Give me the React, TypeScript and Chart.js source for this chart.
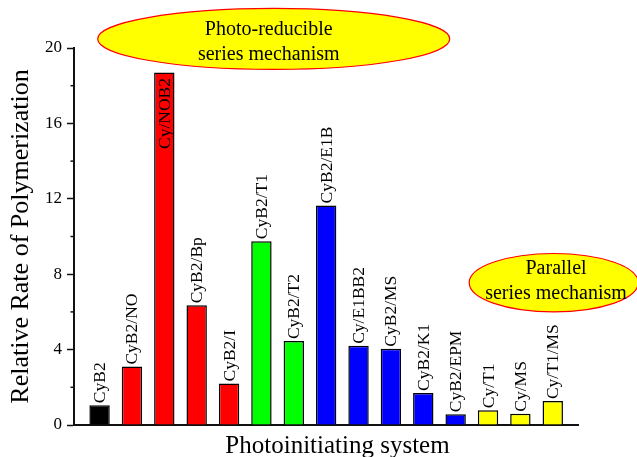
import { useEffect, useRef } from "react";
import { Chart, registerables, Plugin } from "chart.js";

Chart.register(...registerables);

const CATEGORIES = [
  "CyB2",
  "CyB2/NO",
  "Cy/NOB2",
  "CyB2/Bp",
  "CyB2/I",
  "CyB2/T1",
  "CyB2/T2",
  "CyB2/E1B",
  "Cy/E1BB2",
  "CyB2/MS",
  "CyB2/K1",
  "CyB2/EPM",
  "Cy/T1",
  "Cy/MS",
  "Cy/T1/MS",
];

const RATES = [1.05, 3.1, 18.7, 6.35, 2.2, 9.75, 4.45, 11.65, 4.2, 4.05, 1.7, 0.57, 0.78, 0.6, 1.27];

const BAR_COLORS = [
  "#000000",
  "#FF0000",
  "#FF0000",
  "#FF0000",
  "#FF0000",
  "#00FF00",
  "#00FF00",
  "#0000FF",
  "#0000FF",
  "#0000FF",
  "#0000FF",
  "#0000FF",
  "#FFFF00",
  "#FFFF00",
  "#FFFF00",
];

const Y_TICKS = [0, 4, 8, 12, 16, 20];

const SERIF = "'Liberation Serif', 'Times New Roman', serif";

// mechanism callouts, anchored in data units
const NOTES = [
  { lines: ["Photo-reducible", "series mechanism"], x: 5.38, y: 20.48, rx: 176, ry: 30.5, dx: -5, dy: -3.5 },
  { lines: ["Parallel", "series mechanism"], x: 14.03, y: 7.55, rx: 84.5, ry: 29.2, dx: 2.3, dy: -8.2 },
];

const barLabels: Plugin = {
  id: "barLabels",
  afterDatasetsDraw(chart) {
    const { ctx, chartArea } = chart;
    const meta = chart.getDatasetMeta(0);
    ctx.save();
    ctx.font = `17.5px ${SERIF}`;
    ctx.fillStyle = "#000";
    ctx.textBaseline = "alphabetic";
    meta.data.forEach((bar: any, i) => {
      const label = CATEGORIES[i];
      const w = ctx.measureText(label).width;
      const inside = bar.y - w - 3 < chartArea.top;
      ctx.save();
      if (inside) {
        ctx.translate(bar.x + 5.5, bar.y + 5.5);
        ctx.rotate(-Math.PI / 2);
        ctx.textAlign = "right";
      } else {
        ctx.translate(bar.x + 5.5, bar.y - 2);
        ctx.rotate(-Math.PI / 2);
        ctx.textAlign = "left";
      }
      ctx.fillText(label, 0, 0);
      ctx.restore();
    });
    ctx.restore();
  },
};

const extras: Plugin = {
  id: "extras",
  afterDraw(chart) {
    const { ctx, chartArea } = chart;
    const xs = chart.scales.x;
    const ys = chart.scales.y;

    // minor ticks on y axis
    ctx.save();
    ctx.strokeStyle = "#111";
    ctx.lineWidth = 1.5;
    ys.ticks.forEach((t) => {
      if (Y_TICKS.includes(t.value)) return;
      const py = ys.getPixelForValue(t.value);
      ctx.beginPath();
      ctx.moveTo(chartArea.left - 3.5, py);
      ctx.lineTo(chartArea.left, py);
      ctx.stroke();
    });
    ctx.restore();

    // x axis title
    ctx.save();
    ctx.font = `25px ${SERIF}`;
    ctx.fillStyle = "#000";
    ctx.textAlign = "center";
    ctx.textBaseline = "alphabetic";
    ctx.fillText("Photoinitiating system", (chartArea.left + chartArea.right) / 2 + 11.5, 453);
    ctx.restore();

    // callout ellipses
    NOTES.forEach((n) => {
      const cx = xs.getPixelForValue(n.x);
      const cy = ys.getPixelForValue(n.y);
      ctx.save();
      ctx.beginPath();
      ctx.ellipse(cx, cy, n.rx, n.ry, 0, 0, Math.PI * 2);
      ctx.fillStyle = "#FFFF00";
      ctx.fill();
      ctx.strokeStyle = "#FF0000";
      ctx.lineWidth = 1.2;
      ctx.stroke();
      ctx.font = `20px ${SERIF}`;
      ctx.fillStyle = "#000";
      ctx.textAlign = "center";
      ctx.textBaseline = "alphabetic";
      n.lines.forEach((line, k) => {
        ctx.fillText(line, cx + n.dx, cy + n.dy + k * 24.2);
      });
      ctx.restore();
    });
  },
};

export default function App() {
  const canvasRef = useRef<HTMLCanvasElement>(null);
  const chartRef = useRef<Chart | null>(null);

  useEffect(() => {
    document.body.style.margin = "0";
    if (!canvasRef.current) return;
    if (chartRef.current) chartRef.current.destroy();

    chartRef.current = new Chart(canvasRef.current, {
      type: "bar",
      data: {
        datasets: [
          {
            label: "Relative Rate of Polymerization",
            data: RATES.map((v, i) => ({ x: i, y: v })),
            backgroundColor: BAR_COLORS,
            borderColor: "#000",
            borderWidth: 1.5,
            barPercentage: 0.63,
            categoryPercentage: 1,
          },
        ],
      },
      options: {
        responsive: false,
        animation: false,
        layout: { padding: { top: 48, right: 59, left: 0, bottom: 0 } },
        plugins: {
          legend: { display: false },
          tooltip: { enabled: false },
        },
        scales: {
          x: {
            type: "linear",
            offset: false,
            min: -0.79,
            max: 14.78,
            ticks: { display: false },
            grid: { offset: false, drawOnChartArea: false, drawTicks: false },
            border: { display: true, color: "#111", width: 2 },
            afterFit: (scale) => {
              scale.height = 32;
            },
          },
          y: {
            min: 0,
            max: 20,
            ticks: {
              stepSize: 2,
              autoSkip: false,
              padding: 5,
              color: "#000",
              font: { family: SERIF, size: 17 },
              callback: (v) => (Y_TICKS.includes(Number(v)) ? String(v) : ""),
            },
            grid: {
              drawOnChartArea: false,
              drawTicks: true,
              tickLength: 7,
              tickWidth: 1.5,
              tickColor: (c) => (Y_TICKS.includes(c.tick.value) ? "#111" : "rgba(0,0,0,0)"),
            },
            border: { display: true, color: "#111", width: 2 },
            title: {
              display: true,
              text: "Relative Rate of Polymerization",
              color: "#000",
              font: { family: SERIF, size: 26, lineHeight: 1 },
              padding: { top: 8, bottom: 0 },
            },
            afterFit: (scale) => {
              scale.width = 74;
            },
          },
        },
      },
      plugins: [barLabels, extras],
    });

    return () => {
      if (chartRef.current) {
        chartRef.current.destroy();
        chartRef.current = null;
      }
    };
  }, []);

  return (
    <div style={{ width: 637, height: 457 }}>
      <canvas ref={canvasRef} width={637} height={457} />
    </div>
  );
}
